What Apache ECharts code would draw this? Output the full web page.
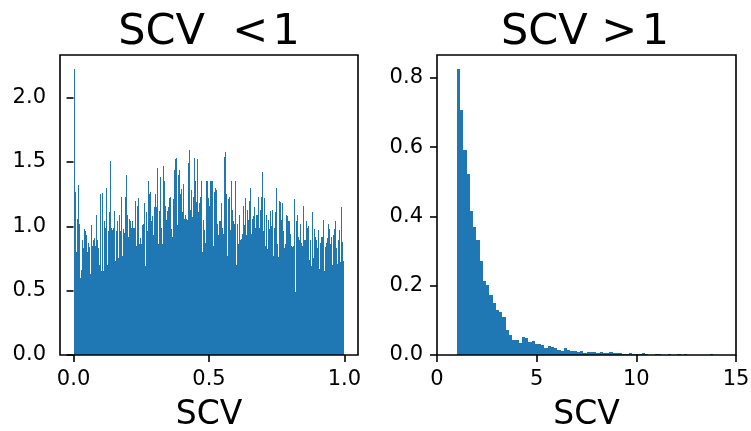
<!DOCTYPE html>
<html>
<head>
<meta charset="utf-8">
<script src="https://cdn.jsdelivr.net/npm/echarts@6/dist/echarts.min.js"></script>
<style>
html,body{margin:0;padding:0;background:#fff;}
#chart{width:751px;height:431px;}
</style>
</head>
<body>
<div id="chart"></div>
<script>
// SCV < 1 : density of each bin, bins evenly spaced over [0, 1]
var leftValues = [
	2.22,1.27,0.80,1.06,1.32,1.02,0.60,0.66,0.89,0.83,0.98,1.01,0.96,0.93,0.80,0.87,0.84,0.63,1.01,0.85,
	0.89,0.91,0.85,1.09,0.89,0.83,0.70,1.25,0.65,1.26,0.65,1.04,0.99,1.30,0.70,0.96,1.11,1.51,0.99,0.97,
	0.99,1.12,0.73,0.96,1.04,0.75,1.09,0.96,1.23,0.77,0.98,0.95,1.23,1.40,1.09,0.92,1.06,1.04,0.99,1.04,
	0.99,0.99,1.20,0.85,1.16,1.22,0.86,0.91,0.86,
	1.01,1.02,1.18,0.69,1.11,0.96,1.35,1.25,1.27,1.04,1.08,0.93,1.15,1.25,1.15,1.45,0.86,1.12,1.38,0.99,
	0.86,1.47,1.35,1.16,1.05,1.12,1.15,1.22,1.23,0.98,0.92,1.21,1.44,1.52,1.53,1.01,1.40,1.44,1.25,1.29,
	1.11,1.33,1.06,1.09,1.06,1.05,1.49,1.59,1.13,1.28,1.07,1.23,1.53,1.35,1.19,1.52,1.11,1.18,1.23,1.35,
	0.80,1.05,0.97,0.87,1.35,1.35,1.22,1.16,1.35,1.35,
	1.35,0.85,1.27,1.30,1.28,1.02,0.93,1.04,1.04,1.18,0.99,0.94,1.54,1.58,1.25,0.77,1.21,1.23,0.97,1.35,
	1.13,1.04,1.02,1.35,0.70,1.02,0.86,1.09,0.89,0.90,0.94,1.16,1.01,1.22,0.93,1.13,1.05,1.20,1.30,0.94,
	1.06,1.08,1.15,0.99,1.09,1.09,1.23,0.99,1.13,1.23,1.42,0.96,1.22,0.85,1.09,0.82,1.05,0.98,1.12,1.00,
	1.13,0.77,0.99,1.11,1.30,0.86,0.76,1.20,1.19,1.05,
	1.18,0.96,0.83,0.86,1.09,1.08,1.04,1.04,0.94,0.85,0.84,0.85,1.21,0.49,1.04,1.09,0.92,0.89,1.02,0.87,
	0.85,1.16,0.89,0.89,1.04,0.99,1.00,0.74,0.89,0.69,1.11,0.75,0.98,0.92,0.89,0.83,0.97,0.67,0.87,0.92,
	0.92,1.05,0.65,0.84,0.87,0.91,1.02,0.98,0.86,0.92,0.70,0.92,0.93,0.98,1.04,0.83,0.71,0.89,0.97,0.72,
	1.15,0.88,0.73
];
var leftRange = [0, 1];
var leftXTicks = [0, 0.5, 1];
var leftYTicks = [0, 0.5, 1, 1.5, 2];

// SCV > 1 : density of each bin, bins start at 1.0
var rightValues = [
	0.825,0.707,0.593,0.522,0.415,0.369,0.332,0.272,0.214,0.203,0.174,0.151,0.131,0.125,0.110,0.073,
	0.058,0.044,0.044,0.036,0.053,0.050,0.038,0.041,0.033,0.033,0.030,0.021,0.027,0.024,0.020,0.015,
	0.012,0.021,0.015,0.012,0.012,0.009,0.012,0.006,0.009,0.009,0.009,0.006,0.009,0.006,0.006,0.009,
	0.006,0.006,0.006,0.004,0.004,0.006,0.004,0.004,0.004,0.006,0.004,0,0,0.004,0.004,0,
	0,0.004,0,0,0.004,0,0.004,0,0,0,0,0,0,0,0.004
];
var rightStart = 1.0;
var rightBinWidth = 0.1627;
var rightXTicks = [0, 5, 10, 15];
var rightYTicks = [0, 0.2, 0.4, 0.6, 0.8];

var BLUE = '#1f77b4';
var FONT = 'DejaVu Sans';

function binsFromRange(values, lo, hi){
	var w = (hi - lo) / values.length;
	return values.map(function(v, i){ return [lo + i * w, lo + (i + 1) * w, v]; });
}
function binsFromStart(values, start, w){
	return values.map(function(v, i){ return [start + i * w, start + (i + 1) * w, v]; });
}

// rect snapped to whole pixels so neighbouring bins join without seams
function renderBin(params, api){
	var top = api.coord([api.value(0), api.value(2)]);
	var bot = api.coord([api.value(1), 0]);
	var x0 = Math.round(top[0]), x1 = Math.round(bot[0]);
	var y0 = Math.round(top[1]), y1 = Math.round(bot[1]);
	if (api.value(2) > 0 && y1 - y0 < 1) y0 = y1 - 1;
	return {
		type: 'rect',
		shape: { x: x0, y: y0, width: x1 - x0, height: y1 - y0 },
		style: { fill: BLUE }
	};
}

function xAxisOf(idx, min, max, ticks, fmt){
	return {
		type: 'value', gridIndex: idx, min: min, max: max,
		name: 'SCV', nameLocation: 'middle', nameGap: 44,
		nameTextStyle: { fontSize: 33, color: '#000', fontFamily: FONT },
		axisLine: { show: false },
		axisTick: { show: true, length: 7, inside: false, customValues: ticks, lineStyle: { color: '#000', width: 1.6 } },
		axisLabel: { customValues: ticks, margin: 14, fontSize: 21, color: '#000', fontFamily: FONT, formatter: fmt },
		splitLine: { show: false }
	};
}
function yAxisOf(idx, max, ticks){
	return {
		type: 'value', gridIndex: idx, min: 0, max: max,
		axisLine: { show: false },
		axisTick: { show: true, length: 7, customValues: ticks, lineStyle: { color: '#000', width: 1.6 } },
		axisLabel: { customValues: ticks, margin: 14, fontSize: 21, color: '#000', fontFamily: FONT,
			formatter: function(v){ return v.toFixed(1); } },
		splitLine: { show: false }
	};
}

var leftMax = Math.max.apply(null, leftValues) * 1.05;
var rightMax = Math.max.apply(null, rightValues) * 1.05;

var myChart = echarts.init(document.getElementById('chart'), null, { renderer: 'canvas' });
var option = {
	animation: false,
	backgroundColor: '#fff',
	title: [
		{ text: 'SCV  <\u200A1', left: 204, top: 6, textAlign: 'center',
		  textStyle: { fontSize: 43, fontWeight: 'normal', color: '#000', fontFamily: FONT } },
		{ text: 'SCV >\u200A1', left: 580, top: 6, textAlign: 'center',
		  textStyle: { fontSize: 43, fontWeight: 'normal', color: '#000', fontFamily: FONT } }
	],
	grid: [
		{ left: 60, top: 55, width: 298, height: 300, outerBoundsMode: 'none', containLabel: false,
		  show: true, borderColor: '#000', borderWidth: 1.6, backgroundColor: 'transparent', z: 3 },
		{ left: 437, top: 55, width: 299, height: 300, outerBoundsMode: 'none', containLabel: false,
		  show: true, borderColor: '#000', borderWidth: 1.6, backgroundColor: 'transparent', z: 3 }
	],
	xAxis: [
		xAxisOf(0, -0.05, 1.05, leftXTicks, function(v){ return v.toFixed(1); }),
		xAxisOf(1, 0, 15, rightXTicks, function(v){ return String(v); })
	],
	yAxis: [
		yAxisOf(0, leftMax, leftYTicks),
		yAxisOf(1, rightMax, rightYTicks)
	],
	series: [
		{ type: 'custom', xAxisIndex: 0, yAxisIndex: 0, z: 2, renderItem: renderBin,
		  encode: { x: [0, 1], y: 2 }, data: binsFromRange(leftValues, leftRange[0], leftRange[1]) },
		{ type: 'custom', xAxisIndex: 1, yAxisIndex: 1, z: 2, renderItem: renderBin,
		  encode: { x: [0, 1], y: 2 }, data: binsFromStart(rightValues, rightStart, rightBinWidth) }
	]
};
myChart.setOption(option);
</script>
</body>
</html>
